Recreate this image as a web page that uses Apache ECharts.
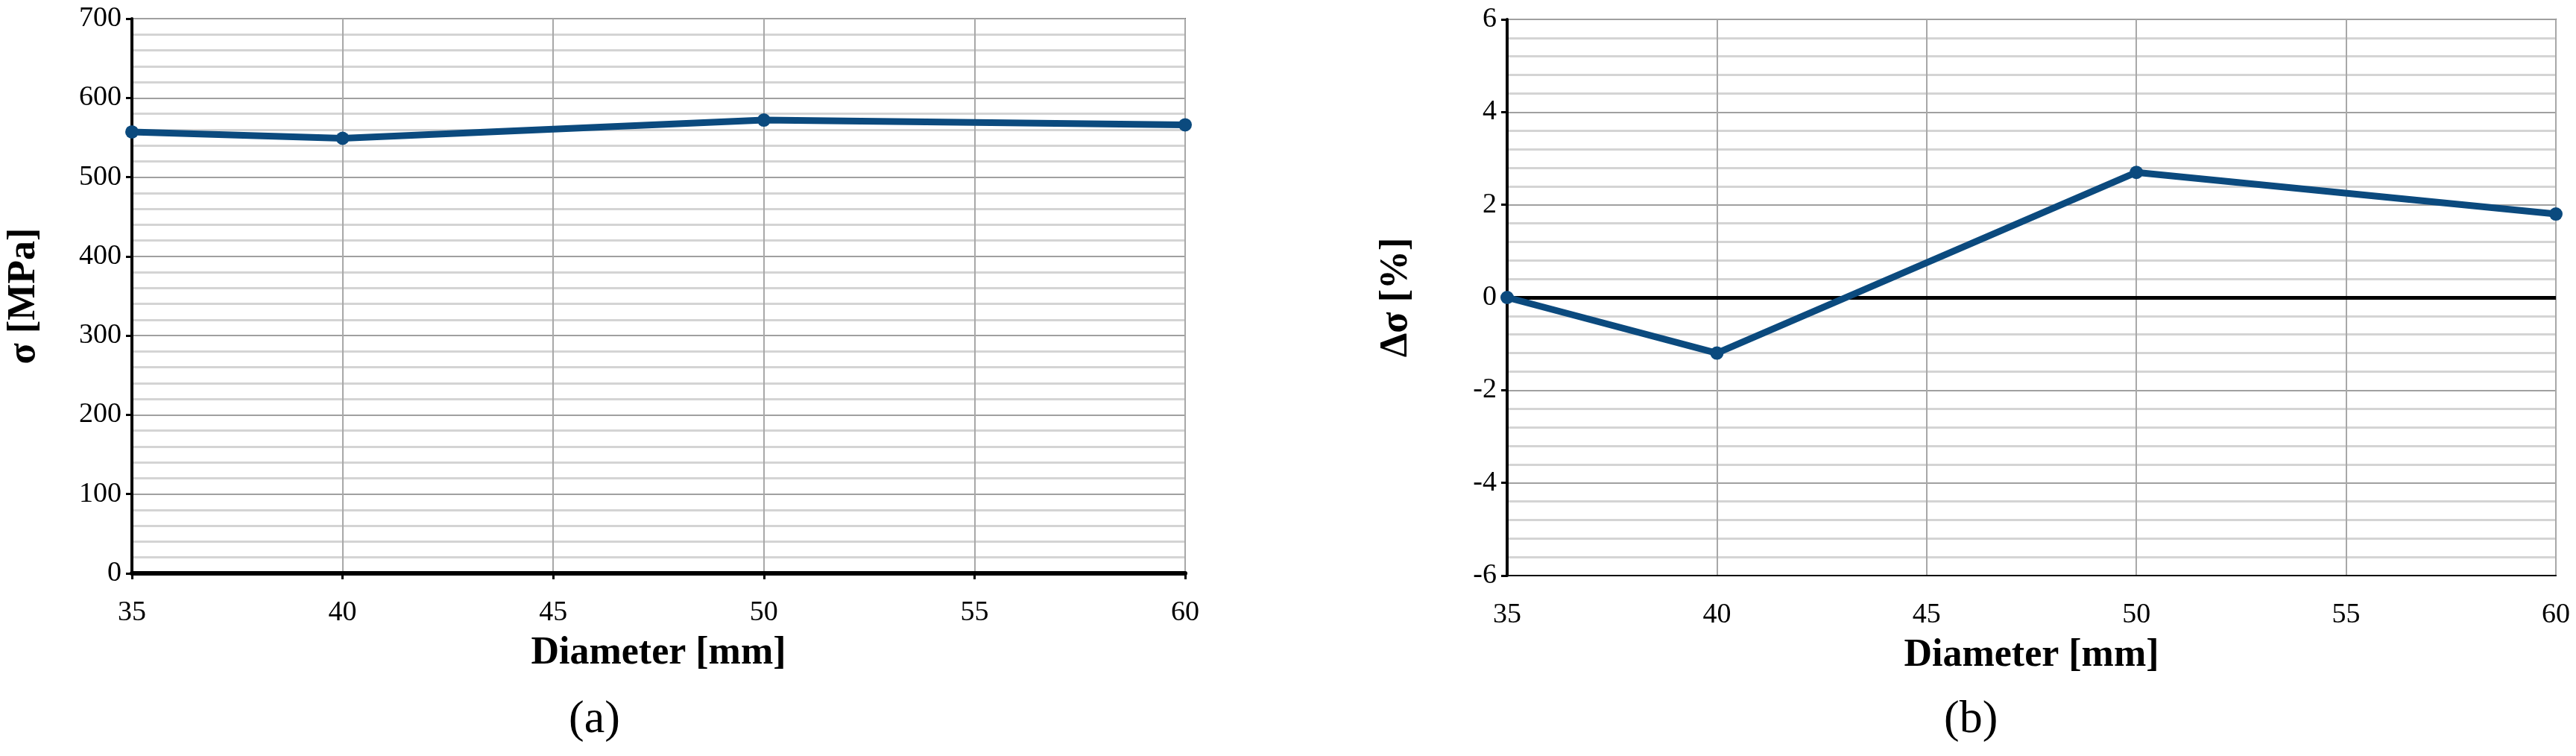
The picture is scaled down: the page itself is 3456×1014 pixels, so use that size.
<!DOCTYPE html>
<html><head><meta charset="utf-8">
<script src="https://cdn.jsdelivr.net/npm/echarts@6/dist/echarts.min.js"></script>
<style>html,body{margin:0;padding:0;background:#fff}#c{width:3456px;height:1014px}</style>
</head><body><div id="c"></div>
<script>
const diameters = [35, 40, 50, 60];
const stressMPa = [557, 549, 572, 566];
const deltaStressPct = [0, -1.2, 2.7, 1.8];
const panelLabels = ['(a)', '(b)'];

const font = '"Liberation Serif", "Times New Roman", serif';
const lineColor = '#0b4a7e';
function xAx(gi){
  return {type:'value', gridIndex:gi, min:35, max:60, interval:5,
    name:'Diameter [mm]', nameLocation:'middle', nameGap:82,
    nameTextStyle:{fontFamily:font, fontWeight:'bold', fontSize:52, color:'#000'},
    axisLine:{onZero:false, lineStyle:{color:'#000', width:gi===0?6:2}},
    axisTick:{show:gi===0, length:8, lineStyle:{color:'#000', width:3}},
    axisLabel:{fontFamily:font, fontSize:38, color:'#000', margin:34},
    splitLine:{show:true, lineStyle:{color:'#a8a8a8', width:2}}};
}
function yAx(gi, min, max, interval, name, gap){
  return {type:'value', gridIndex:gi, min, max, interval,
    name, nameLocation:'middle', nameGap:gap, nameRotate:90,
    nameTextStyle:{fontFamily:font, fontWeight:'bold', fontSize:52, color:'#000'},
    axisLine:{show:true, lineStyle:{color:'#000', width:4}},
    axisTick:{show:true, length:8, lineStyle:{color:'#000', width:3}},
    axisLabel:{fontFamily:font, fontSize:38, color:'#000', margin:14},
    splitLine:{show:true, lineStyle:{color:'#a0a0a0', width:2}},
    minorTick:{show:false, splitNumber:5},
    minorSplitLine:{show:true, lineStyle:{color:'#d4d4d4', width:3}}};
}
const chart = echarts.init(document.getElementById('c'));
chart.setOption({
  animation:false,
  grid:[
    {left:177, right:1866, top:25, bottom:245, show:true, borderColor:'#666', borderWidth:2},
    {left:2022, right:27, top:26, bottom:242, show:true, borderColor:'#666', borderWidth:2}
  ],
  xAxis:[xAx(0), xAx(1)],
  yAxis:[yAx(0,0,700,100,'σ [MPa]',118), yAx(1,-6,6,2,'Δσ [%]',122)],
  series:[
    {type:'line', xAxisIndex:0, yAxisIndex:0, data:diameters.map((d,i)=>[d,stressMPa[i]]),
      symbol:'circle', symbolSize:18, lineStyle:{color:lineColor, width:9}, itemStyle:{color:lineColor}},
    {type:'line', xAxisIndex:1, yAxisIndex:1, data:diameters.map((d,i)=>[d,deltaStressPct[i]]),
      symbol:'circle', symbolSize:18, lineStyle:{color:lineColor, width:9}, itemStyle:{color:lineColor}, z:3,
      markLine:{silent:true, symbol:'none', label:{show:false}, lineStyle:{color:'#000', width:5, type:'solid'}, data:[{yAxis:0}], z:2}}
  ],
  graphic:[
    {type:'text', left:803-40, top:935, style:{text:panelLabels[0], font:'62px '+font, fill:'#000'}},
    {type:'text', left:2648-40, top:935, style:{text:panelLabels[1], font:'62px '+font, fill:'#000'}}
  ]
});
</script></body></html>
